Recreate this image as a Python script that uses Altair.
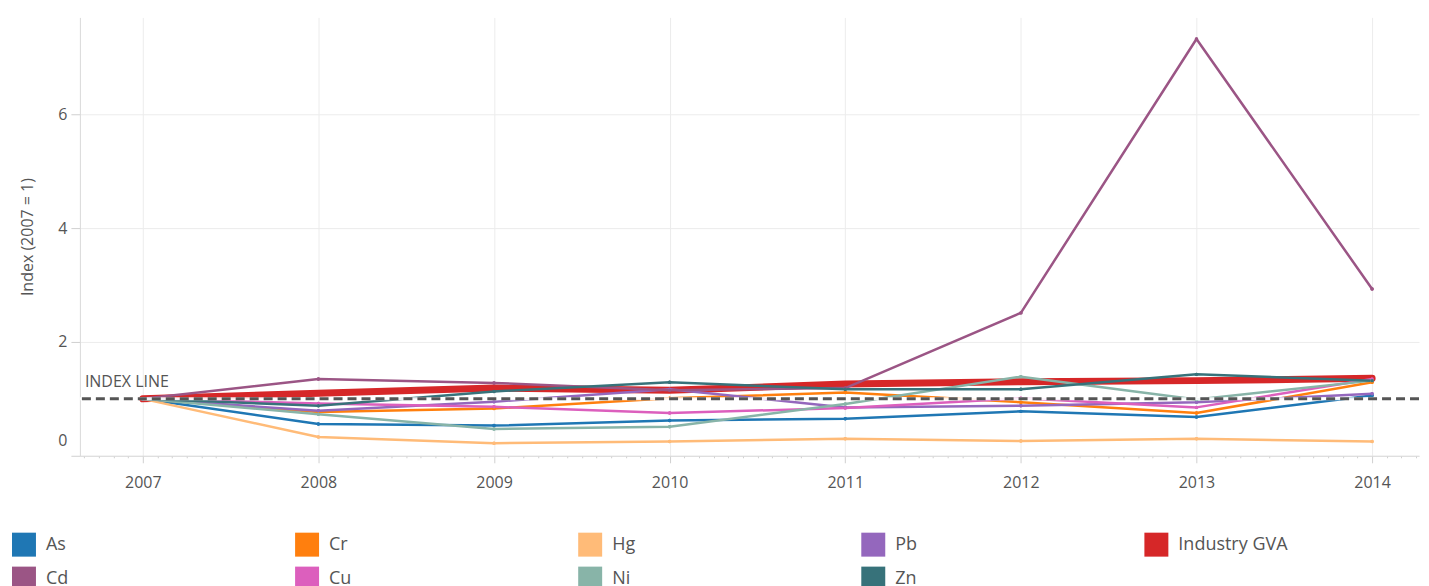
import altair as alt
import pandas as pd

years = [2007, 2008, 2009, 2010, 2011, 2012, 2013, 2014]
series_names = ["As", "Cr", "Hg", "Pb", "Industry GVA", "Cd", "Cu", "Ni", "Zn"]
series_colors = ["#1f77b4", "#ff7f0e", "#ffbb78", "#9467bd", "#d62728",
                 "#9b5585", "#dc5fbd", "#88b4a8", "#37727a"]

as_vals = [1.0, 0.56, 0.53, 0.62, 0.65, 0.78, 0.68, 1.06]
cr_vals = [1.0, 0.77, 0.83, 1.01, 1.11, 0.94, 0.75, 1.29]
hg_vals = [1.0, 0.33, 0.22, 0.25, 0.30, 0.26, 0.30, 0.25]
pb_vals = [1.0, 0.79, 0.95, 1.17, 0.85, 0.88, 0.94, 1.09]
gva_vals = [1.0, 1.10, 1.19, 1.15, 1.26, 1.30, 1.32, 1.36]
cd_vals = [1.0, 1.35, 1.28, 1.15, 1.19, 2.51, 7.32, 2.93]
cu_vals = [1.0, 0.92, 0.86, 0.75, 0.84, 1.01, 0.85, 1.35]
ni_vals = [1.0, 0.73, 0.47, 0.51, 0.91, 1.39, 0.99, 1.32]
zn_vals = [1.0, 0.88, 1.13, 1.29, 1.17, 1.17, 1.43, 1.32]

values_by_series = {
    "As": as_vals, "Cr": cr_vals, "Hg": hg_vals, "Pb": pb_vals,
    "Industry GVA": gva_vals, "Cd": cd_vals, "Cu": cu_vals,
    "Ni": ni_vals, "Zn": zn_vals,
}

index_value = [1.0]
index_label = ["INDEX LINE"]
y_ticks = [0, 2, 4, 6]

rows = []
for s in series_names:
    for yr, v in zip(years, values_by_series[s]):
        rows.append({"year": yr, "series": s, "value": v})
df = pd.DataFrame(rows)
idx_df = pd.DataFrame({"value": index_value, "label": index_label})

x_domain = [2006.642, 2014.267]
y_domain = [0, 7.7]

# monthly minor ticks, labelled only at whole years
month_vals = []
for m in range(0, 12 * 10):
    v = 2006 + m / 12
    if x_domain[0] <= v <= x_domain[1]:
        month_vals.append(round(v, 6))

is_year = "abs(datum.value - round(datum.value)) < 0.001"

x_axis = alt.Axis(
    values=month_vals,
    labelExpr=f"{is_year} ? format(datum.value, 'd') : ''",
    tickSize={"condition": {"test": is_year, "value": 7}, "value": 2},
    gridOpacity={"condition": {"test": is_year, "value": 1}, "value": 0},
    labelOverlap=False,
    labelFlush=False,
    labelPadding=12,
    title=None,
)
y_axis = alt.Axis(
    values=y_ticks,
    tickSize=9,
    labelPadding=4,
    titlePadding=22,
    labelFlush=True,
    labelFlushOffset=-7,
    format="d",
    title="Index (2007 = 1)",
)

legend = alt.Legend(
    title=None, orient="none", legendX=-68, legendY=516,
    direction="horizontal", columns=5, symbolType="square",
    symbolSize=576, symbolStrokeWidth=0, symbolOpacity=1,
    labelFontSize=18, labelFont="Open Sans", labelColor="#555",
    labelOffset=10, columnPadding=139.5, rowPadding=10,
    gridAlign="all", labelLimit=300, padding=0,
)

x_scale = alt.Scale(domain=x_domain, nice=False, zero=False)
y_scale = alt.Scale(domain=y_domain, nice=False, zero=False)
color_scale = alt.Scale(domain=series_names, range=series_colors)

X = alt.X("year:Q", scale=x_scale, axis=x_axis)
Y = alt.Y("value:Q", scale=y_scale, axis=y_axis)
C = alt.Color("series:N", scale=color_scale, legend=legend)

base = alt.Chart(df)

points_under = base.mark_point(filled=True, size=12, opacity=1).encode(x=X, y=Y, color=C)

gva_line = base.transform_filter("datum.series == 'Industry GVA'").mark_line(
    strokeWidth=7, strokeCap="round", strokeJoin="round"
).encode(x=X, y=Y, color=C)

other_lines = base.transform_filter("datum.series != 'Industry GVA'").mark_line(
    strokeWidth=2.5, strokeJoin="round"
).encode(x=X, y=Y, color=C)

points = base.transform_filter("datum.series != 'Industry GVA'").mark_point(
    filled=True, size=12, opacity=1
).encode(x=X, y=Y, color=C)

rule_under = alt.Chart(idx_df).mark_rule(color="white", strokeWidth=3, opacity=0.9).encode(y=Y)
rule = alt.Chart(idx_df).mark_rule(color="#555", strokeWidth=3, strokeDash=[9, 5]).encode(y=Y)
label = alt.Chart(idx_df).mark_text(
    align="left", baseline="middle", dy=-17, fontSize=16, color="#555", font="Open Sans"
).encode(x=alt.value(5), y=Y, text="label:N")

chart = alt.layer(points_under, gva_line, other_lines, points, rule_under, rule, label).properties(
    width=1341, height=439,
    padding={"left": 4, "top": 9, "right": 0, "bottom": 0},
).configure_axis(
    labelFont="Open Sans", titleFont="Open Sans",
    labelColor="#555", titleColor="#555",
    labelFontSize=16, titleFontSize=16, titleFontWeight="normal",
    gridColor="#ececec", domainColor="#d9d9d9", tickColor="#d0d0d0",
).configure_view(strokeWidth=0)

chart.save("out.html", embed_options={"renderer": "svg", "actions": False})
